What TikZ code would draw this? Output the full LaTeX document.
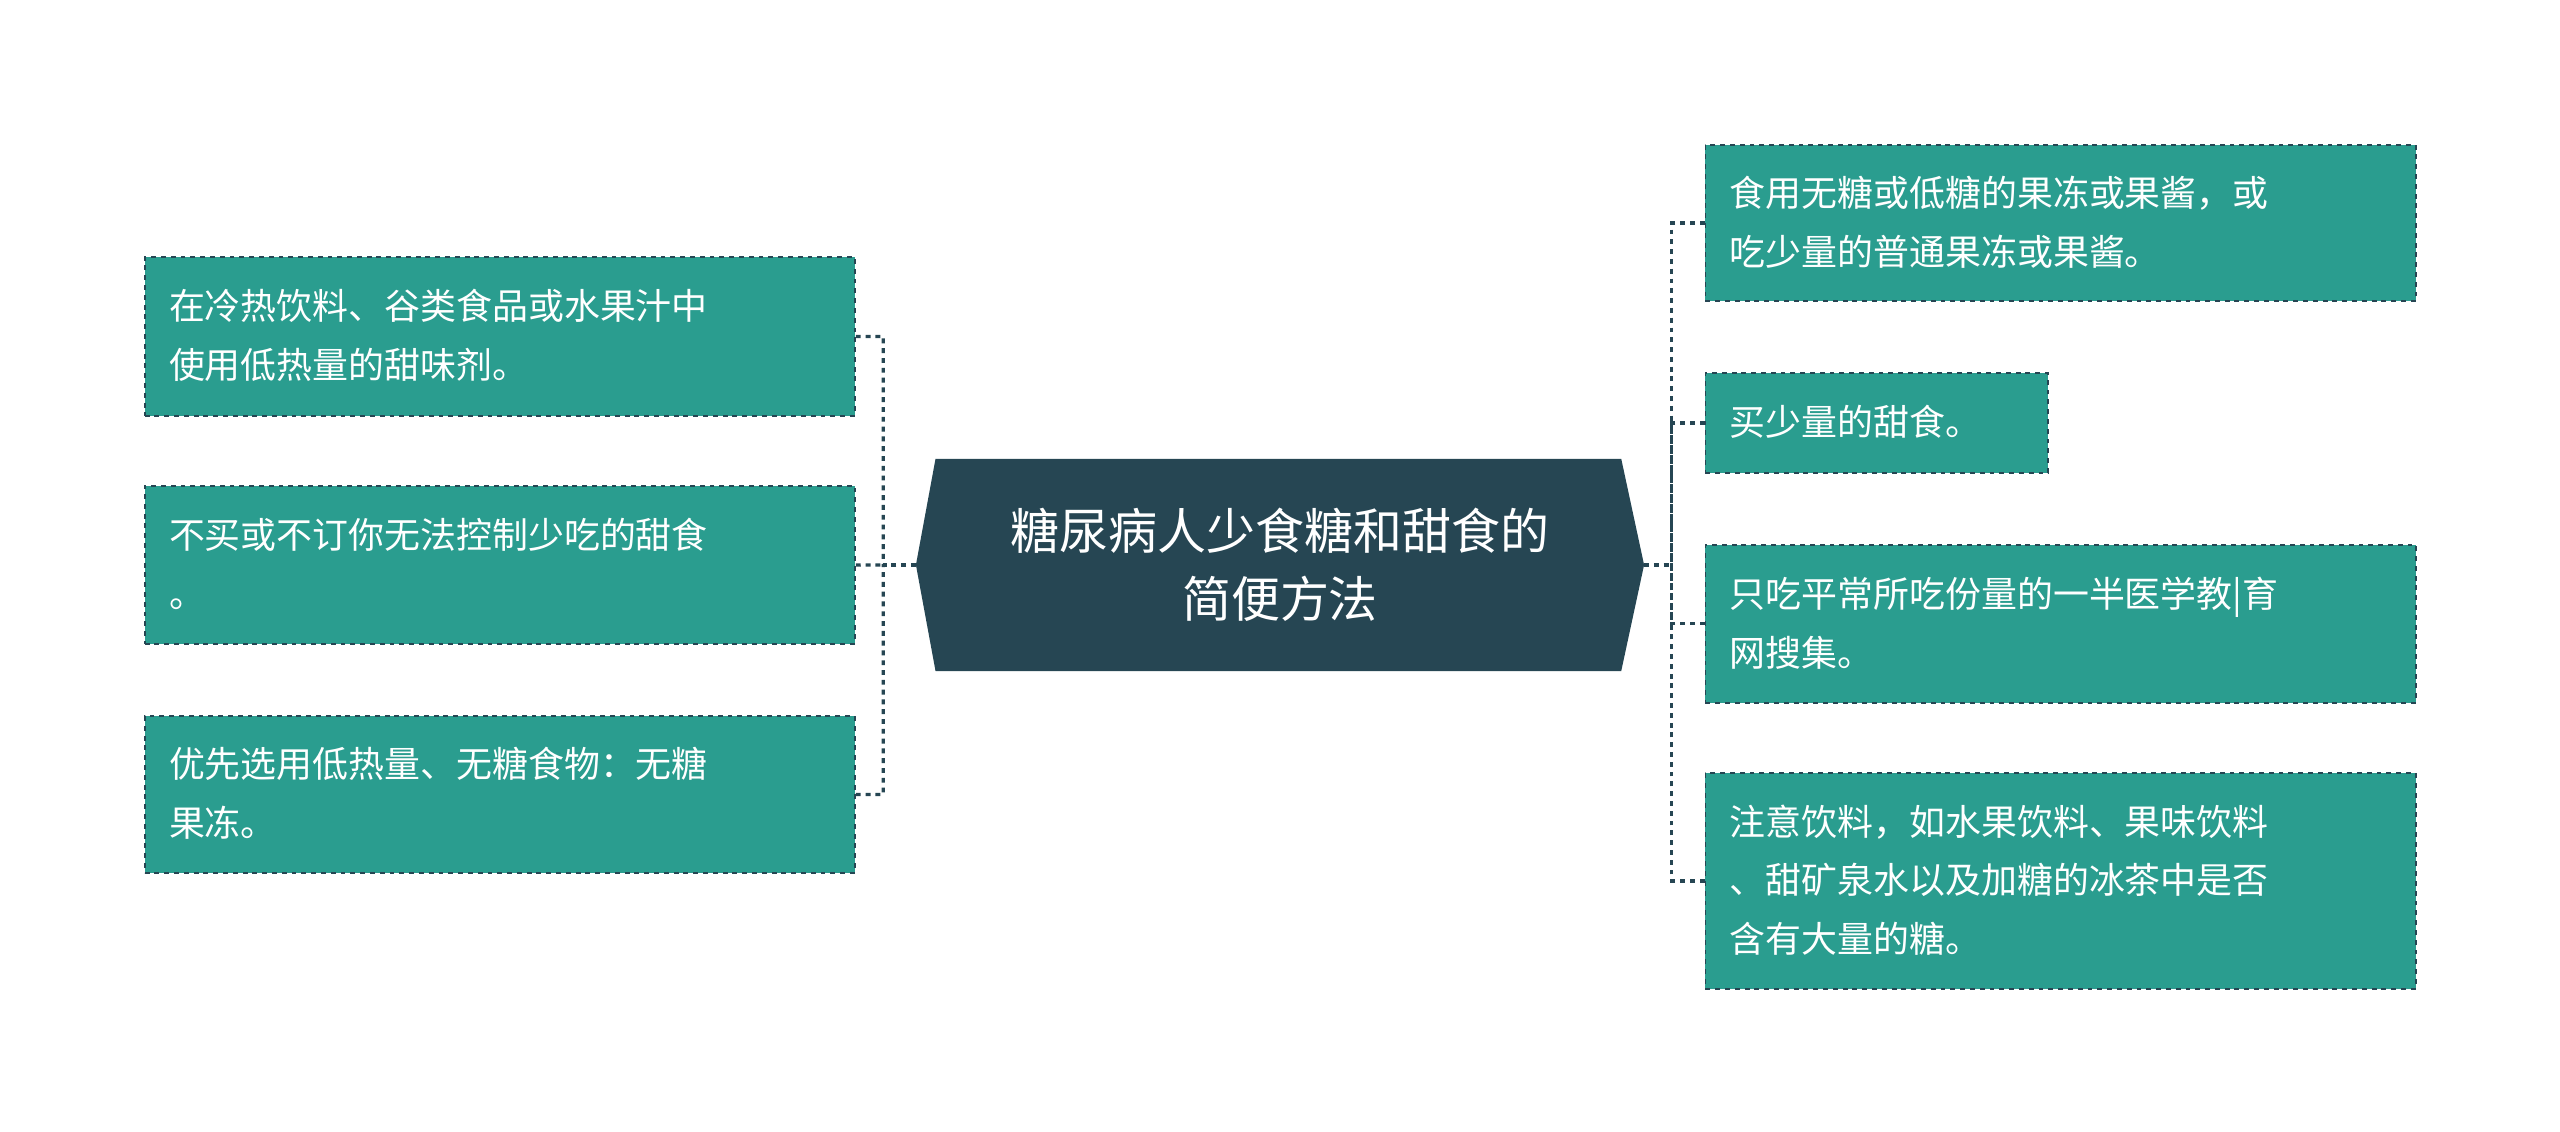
\documentclass[tikz,border=0pt]{standalone}
\usepackage{fontspec}
\setmainfont{Noto Sans CJK SC}
\definecolor{teal1}{HTML}{2A9D8F}
\definecolor{dark1}{HTML}{264653}
\begin{document}
\begin{tikzpicture}[x=1pt,y=-1pt,
  leaf/.style={draw=dark1,dashed,line width=1.2pt,fill=teal1,text=white,align=left,anchor=north west,inner sep=0pt,
    font=\fontsize{22}{36}\selectfont},
  conn/.style={draw=dark1,dashed,line width=2pt}]
\useasboundingbox (0,0) rectangle (1568,693);
\fill[dark1] (573,281) -- (993,281) -- (1007,346) -- (993,411) -- (573,411) -- (561,346) -- cycle;
\node[text=white,align=center,font=\fontsize{30}{42}\selectfont] (c) at (784,346) {糖尿病人少食糖和甜食的\\简便方法};
\coordinate (cl) at (561,346);
\coordinate (cr) at (1007,346);
% left boxes
\node[leaf,minimum width=435pt,minimum height=97pt] (l1) at (88,157) {};
\node[anchor=west,text=white,align=left,font=\fontsize{22}{36}\selectfont] at (100,205.5) {在冷热饮料、谷类食品或水果汁中\\使用低热量的甜味剂。};
\node[leaf,minimum width=435pt,minimum height=97pt] (l2) at (88,297) {};
\node[anchor=west,text=white,align=left,font=\fontsize{22}{36}\selectfont] at (100,345.5) {不买或不订你无法控制少吃的甜食\\。};
\node[leaf,minimum width=435pt,minimum height=96pt] (l3) at (88,438) {};
\node[anchor=west,text=white,align=left,font=\fontsize{22}{36}\selectfont] at (100,486) {优先选用低热量、无糖食物：无糖\\果冻。};
% right boxes
\node[leaf,minimum width=435pt,minimum height=96pt] (r1) at (1044,88) {};
\node[anchor=west,text=white,align=left,font=\fontsize{22}{36}\selectfont] at (1056,136) {食用无糖或低糖的果冻或果酱，或\\吃少量的普通果冻或果酱。};
\node[leaf,minimum width=210pt,minimum height=61pt] (r2) at (1044,228) {};
\node[anchor=west,text=white,align=left,font=\fontsize{22}{36}\selectfont] at (1056,258.5) {买少量的甜食。};
\node[leaf,minimum width=435pt,minimum height=97pt] (r3) at (1044,333) {};
\node[anchor=west,text=white,align=left,font=\fontsize{22}{36}\selectfont] at (1056,381.5) {只吃平常所吃份量的一半医学教|育\\网搜集。};
\node[leaf,minimum width=435pt,minimum height=132pt] (r4) at (1044,473) {};
\node[anchor=west,text=white,align=left,font=\fontsize{22}{36}\selectfont] at (1056,539) {注意饮料，如水果饮料、果味饮料\\、甜矿泉水以及加糖的冰茶中是否\\含有大量的糖。};
% connectors
\coordinate (lj) at (541,346);
\coordinate (rj) at (1024,346);
\draw[conn] (cl) -- (lj);
\draw[conn] (l1.east) -| (lj) (l3.east) -| (lj) (l2.east) -- (lj);
\draw[conn] (cr) -- (rj);
\draw[conn] (r1.west) -| (rj) (r4.west) -| (rj) (r2.west) -| (rj) (r3.west) -| (rj);
\end{tikzpicture}
\end{document}
